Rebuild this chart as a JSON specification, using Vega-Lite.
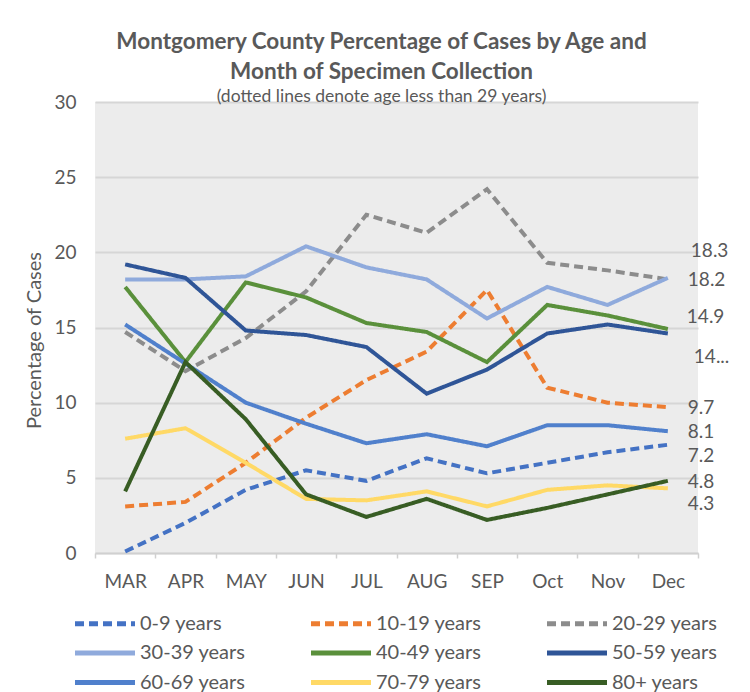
{
  "$schema": "https://vega.github.io/schema/vega-lite/v6.json",
  "width": 603,
  "height": 451,
  "autosize": {"type": "none"},
  "padding": {"left": 95, "top": 102, "right": 52, "bottom": 139},
  "background": "white",
  "title": {
    "text": ["Montgomery County Percentage of Cases by Age and", "Month of Specimen Collection"],
    "subtitle": "(dotted lines denote age less than 29 years)",
    "anchor": "middle",
    "frame": "group",
    "dx": -15,
    "offset": -12,
    "font": "Lato",
    "fontSize": 22.5,
    "fontWeight": "bold",
    "color": "#595959",
    "lineHeight": 30,
    "subtitleFont": "Lato",
    "subtitleFontSize": 17.5,
    "subtitleColor": "#595959",
    "subtitlePadding": 4
  },
  "data": {
    "values": [
      {"month": "MAR", "age": "0-9 years", "pct": 0.1},
      {"month": "APR", "age": "0-9 years", "pct": 2.0},
      {"month": "MAY", "age": "0-9 years", "pct": 4.2},
      {"month": "JUN", "age": "0-9 years", "pct": 5.5},
      {"month": "JUL", "age": "0-9 years", "pct": 4.8},
      {"month": "AUG", "age": "0-9 years", "pct": 6.3},
      {"month": "SEP", "age": "0-9 years", "pct": 5.3},
      {"month": "Oct", "age": "0-9 years", "pct": 6.0},
      {"month": "Nov", "age": "0-9 years", "pct": 6.7},
      {"month": "Dec", "age": "0-9 years", "pct": 7.2},
      {"month": "MAR", "age": "10-19 years", "pct": 3.1},
      {"month": "APR", "age": "10-19 years", "pct": 3.4},
      {"month": "MAY", "age": "10-19 years", "pct": 6.0},
      {"month": "JUN", "age": "10-19 years", "pct": 9.0},
      {"month": "JUL", "age": "10-19 years", "pct": 11.5},
      {"month": "AUG", "age": "10-19 years", "pct": 13.4},
      {"month": "SEP", "age": "10-19 years", "pct": 17.5},
      {"month": "Oct", "age": "10-19 years", "pct": 11.0},
      {"month": "Nov", "age": "10-19 years", "pct": 10.0},
      {"month": "Dec", "age": "10-19 years", "pct": 9.7},
      {"month": "MAR", "age": "20-29 years", "pct": 14.7},
      {"month": "APR", "age": "20-29 years", "pct": 12.1},
      {"month": "MAY", "age": "20-29 years", "pct": 14.3},
      {"month": "JUN", "age": "20-29 years", "pct": 17.4},
      {"month": "JUL", "age": "20-29 years", "pct": 22.5},
      {"month": "AUG", "age": "20-29 years", "pct": 21.3},
      {"month": "SEP", "age": "20-29 years", "pct": 24.2},
      {"month": "Oct", "age": "20-29 years", "pct": 19.3},
      {"month": "Nov", "age": "20-29 years", "pct": 18.8},
      {"month": "Dec", "age": "20-29 years", "pct": 18.2},
      {"month": "MAR", "age": "30-39 years", "pct": 18.2},
      {"month": "APR", "age": "30-39 years", "pct": 18.2},
      {"month": "MAY", "age": "30-39 years", "pct": 18.4},
      {"month": "JUN", "age": "30-39 years", "pct": 20.4},
      {"month": "JUL", "age": "30-39 years", "pct": 19.0},
      {"month": "AUG", "age": "30-39 years", "pct": 18.2},
      {"month": "SEP", "age": "30-39 years", "pct": 15.6},
      {"month": "Oct", "age": "30-39 years", "pct": 17.7},
      {"month": "Nov", "age": "30-39 years", "pct": 16.5},
      {"month": "Dec", "age": "30-39 years", "pct": 18.3},
      {"month": "MAR", "age": "40-49 years", "pct": 17.7},
      {"month": "APR", "age": "40-49 years", "pct": 12.7},
      {"month": "MAY", "age": "40-49 years", "pct": 18.0},
      {"month": "JUN", "age": "40-49 years", "pct": 17.0},
      {"month": "JUL", "age": "40-49 years", "pct": 15.3},
      {"month": "AUG", "age": "40-49 years", "pct": 14.7},
      {"month": "SEP", "age": "40-49 years", "pct": 12.7},
      {"month": "Oct", "age": "40-49 years", "pct": 16.5},
      {"month": "Nov", "age": "40-49 years", "pct": 15.8},
      {"month": "Dec", "age": "40-49 years", "pct": 14.9},
      {"month": "MAR", "age": "50-59 years", "pct": 19.2},
      {"month": "APR", "age": "50-59 years", "pct": 18.3},
      {"month": "MAY", "age": "50-59 years", "pct": 14.8},
      {"month": "JUN", "age": "50-59 years", "pct": 14.5},
      {"month": "JUL", "age": "50-59 years", "pct": 13.7},
      {"month": "AUG", "age": "50-59 years", "pct": 10.6},
      {"month": "SEP", "age": "50-59 years", "pct": 12.2},
      {"month": "Oct", "age": "50-59 years", "pct": 14.6},
      {"month": "Nov", "age": "50-59 years", "pct": 15.2},
      {"month": "Dec", "age": "50-59 years", "pct": 14.6},
      {"month": "MAR", "age": "60-69 years", "pct": 15.2},
      {"month": "APR", "age": "60-69 years", "pct": 12.6},
      {"month": "MAY", "age": "60-69 years", "pct": 10.0},
      {"month": "JUN", "age": "60-69 years", "pct": 8.6},
      {"month": "JUL", "age": "60-69 years", "pct": 7.3},
      {"month": "AUG", "age": "60-69 years", "pct": 7.9},
      {"month": "SEP", "age": "60-69 years", "pct": 7.1},
      {"month": "Oct", "age": "60-69 years", "pct": 8.5},
      {"month": "Nov", "age": "60-69 years", "pct": 8.5},
      {"month": "Dec", "age": "60-69 years", "pct": 8.1},
      {"month": "MAR", "age": "70-79 years", "pct": 7.6},
      {"month": "APR", "age": "70-79 years", "pct": 8.3},
      {"month": "MAY", "age": "70-79 years", "pct": 6.0},
      {"month": "JUN", "age": "70-79 years", "pct": 3.6},
      {"month": "JUL", "age": "70-79 years", "pct": 3.5},
      {"month": "AUG", "age": "70-79 years", "pct": 4.1},
      {"month": "SEP", "age": "70-79 years", "pct": 3.1},
      {"month": "Oct", "age": "70-79 years", "pct": 4.2},
      {"month": "Nov", "age": "70-79 years", "pct": 4.5},
      {"month": "Dec", "age": "70-79 years", "pct": 4.3},
      {"month": "MAR", "age": "80+ years", "pct": 4.1},
      {"month": "APR", "age": "80+ years", "pct": 12.7},
      {"month": "MAY", "age": "80+ years", "pct": 8.9},
      {"month": "JUN", "age": "80+ years", "pct": 3.9},
      {"month": "JUL", "age": "80+ years", "pct": 2.4},
      {"month": "AUG", "age": "80+ years", "pct": 3.6},
      {"month": "SEP", "age": "80+ years", "pct": 2.2},
      {"month": "Oct", "age": "80+ years", "pct": 3.0},
      {"month": "Nov", "age": "80+ years", "pct": 3.9},
      {"month": "Dec", "age": "80+ years", "pct": 4.8}
    ]
  },
  "encoding": {
    "x": {
      "field": "month",
      "type": "ordinal",
      "sort": ["MAR", "APR", "MAY", "JUN", "JUL", "AUG", "SEP", "Oct", "Nov", "Dec"],
      "scale": {"type": "band", "paddingInner": 0, "paddingOuter": 0},
      "axis": {
        "title": null,
        "labelAngle": 0,
        "labelFont": "Lato",
        "labelFontSize": 19,
        "labelColor": "#595959",
        "labelBaseline": "middle",
        "labelPadding": 23,
        "tickBand": "extent",
        "tickColor": "#d0d0d0",
        "tickSize": 5,
        "tickWidth": 1.5,
        "domainColor": "#d0d0d0",
        "domainWidth": 1.5,
        "grid": false
      }
    },
    "y": {
      "field": "pct",
      "type": "quantitative",
      "scale": {"domain": [0, 30], "nice": false},
      "axis": {
        "title": "Percentage of Cases",
        "titleFont": "Lato",
        "titleFontSize": 20,
        "titleFontWeight": "normal",
        "titleColor": "#595959",
        "titleX": -61,
        "titleY": 238,
        "titleBaseline": "middle",
        "titleAngle": -90,
        "values": [0, 5, 10, 15, 20, 25, 30],
        "labelFont": "Lato",
        "labelFontSize": 19,
        "labelColor": "#595959",
        "labelPadding": 19,
        "domain": false,
        "ticks": false,
        "gridColor": "#d6d6d6",
        "gridWidth": 2
      }
    }
  },
  "layer": [
    {
      "mark": {"type": "line", "strokeWidth": 4, "strokeCap": "butt"},
      "encoding": {
        "color": {
          "field": "age",
          "type": "nominal",
          "scale": {
            "domain": ["0-9 years", "10-19 years", "20-29 years", "30-39 years", "40-49 years", "50-59 years", "60-69 years", "70-79 years", "80+ years"],
            "range": ["#4472C4", "#ED7D31", "#8C8C8C", "#8FAADC", "#5A903B", "#2F5597", "#5080CC", "#FFD966", "#385D24"]
          },
          "legend": {
            "title": null,
            "orient": "none",
            "legendX": -20,
            "legendY": 509,
            "direction": "horizontal",
            "columns": 3,
            "gridAlign": "all",
            "columnPadding": 55,
            "rowPadding": 6.5,
            "symbolType": "M-1.25,0H4.75",
            "symbolSize": 400,
            "symbolStrokeWidth": 5,
            "labelFont": "Lato",
            "labelFontSize": 20,
            "labelColor": "#595959",
            "labelOffset": 40,
            "padding": 0
          }
        },
        "strokeDash": {
          "field": "age",
          "type": "nominal",
          "scale": {
            "domain": ["0-9 years", "10-19 years", "20-29 years", "30-39 years", "40-49 years", "50-59 years", "60-69 years", "70-79 years", "80+ years"],
            "range": [[9, 5], [9, 5], [9, 5], [1, 0], [1, 0], [1, 0], [1, 0], [1, 0], [1, 0]]
          },
          "legend": null
        }
      }
    },
    {
      "transform": [{"filter": {"field": "month", "equal": "Dec"}}, {"filter": {"field": "age", "oneOf": ["20-29 years", "10-19 years", "60-69 years", "80+ years"]}}],
      "mark": {"type": "text", "align": "left", "baseline": "middle", "dx": 20, "dy": 1, "font": "Lato", "fontSize": 19, "color": "#595959"},
      "encoding": {"text": {"field": "pct", "type": "quantitative", "format": ".1f"}}
    },
    {
      "transform": [{"filter": {"field": "month", "equal": "Dec"}}, {"filter": {"field": "age", "equal": "30-39 years"}}],
      "mark": {"type": "text", "align": "left", "baseline": "middle", "dx": 23, "dy": -27, "font": "Lato", "fontSize": 19, "color": "#595959"},
      "encoding": {"text": {"field": "pct", "type": "quantitative", "format": ".1f"}}
    },
    {
      "transform": [{"filter": {"field": "month", "equal": "Dec"}}, {"filter": {"field": "age", "equal": "40-49 years"}}],
      "mark": {"type": "text", "align": "left", "baseline": "middle", "dx": 19, "dy": -12, "font": "Lato", "fontSize": 19, "color": "#595959"},
      "encoding": {"text": {"field": "pct", "type": "quantitative", "format": ".1f"}}
    },
    {
      "transform": [{"filter": {"field": "month", "equal": "Dec"}}, {"filter": {"field": "age", "equal": "50-59 years"}}],
      "mark": {"type": "text", "align": "left", "baseline": "middle", "dx": 26, "dy": 23, "font": "Lato", "fontSize": 19, "color": "#595959", "text": "14..."},
      "encoding": {}
    },
    {
      "transform": [{"filter": {"field": "month", "equal": "Dec"}}, {"filter": {"field": "age", "oneOf": ["0-9 years"]}}],
      "mark": {"type": "text", "align": "left", "baseline": "middle", "dx": 20, "dy": 11, "font": "Lato", "fontSize": 19, "color": "#595959"},
      "encoding": {"text": {"field": "pct", "type": "quantitative", "format": ".1f"}}
    },
    {
      "transform": [{"filter": {"field": "month", "equal": "Dec"}}, {"filter": {"field": "age", "oneOf": ["70-79 years"]}}],
      "mark": {"type": "text", "align": "left", "baseline": "middle", "dx": 20, "dy": 16, "font": "Lato", "fontSize": 19, "color": "#595959"},
      "encoding": {"text": {"field": "pct", "type": "quantitative", "format": ".1f"}}
    }
  ],
  "config": {
    "view": {"fill": "#ececec", "stroke": null},
    "font": "Lato"
  }
}
